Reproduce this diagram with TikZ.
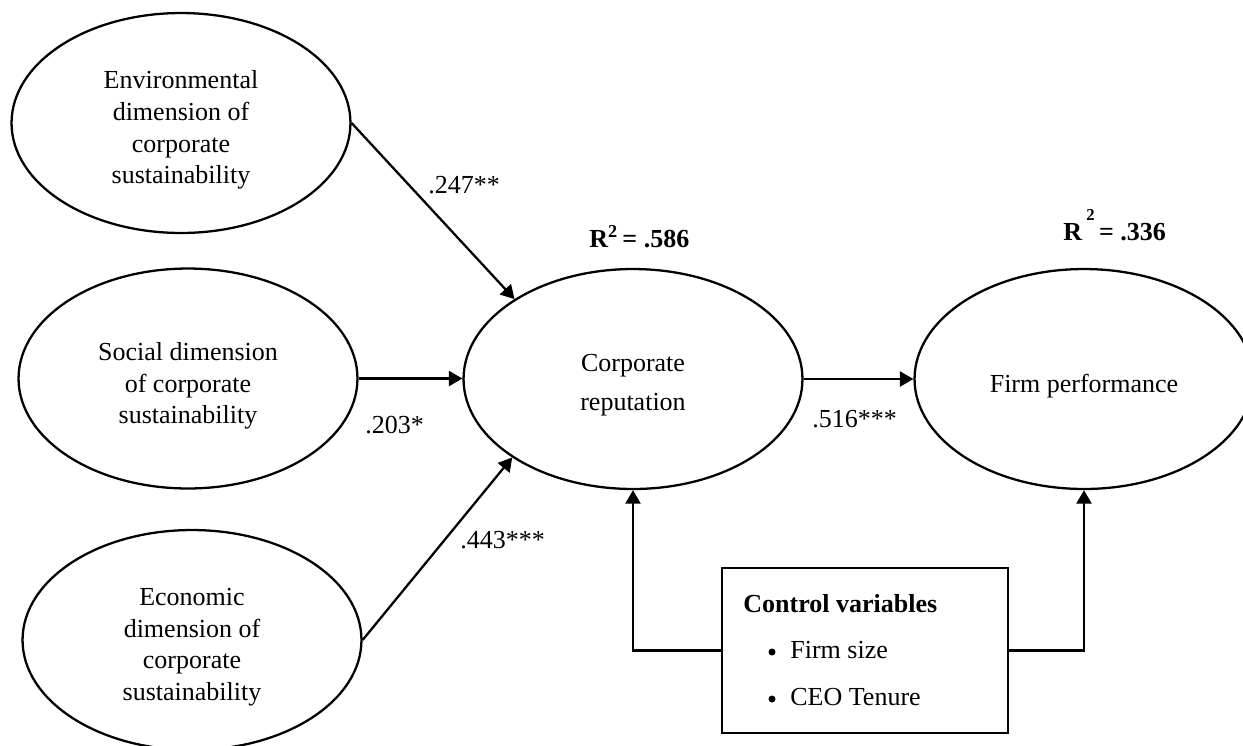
\documentclass[tikz,border=0pt]{standalone}
\usepackage{fontspec}
\setmainfont{Liberation Serif}
\usetikzlibrary{shapes.geometric,arrows.meta}
\tikzset{
  lv/.style={draw, ellipse, line width=1.3pt, inner sep=0pt, minimum width=6.78cm, minimum height=4.4cm},
  lvtext/.style={align=center, font=\fontsize{14.8}{18}\selectfont, inner sep=0pt},
  coef/.style={anchor=base west, inner sep=0pt, font=\fontsize{14.8}{18}\selectfont},
  rsq/.style={anchor=base west, inner sep=0pt, font=\fontsize{14.8}{18}\selectfont\bfseries},
  ctrlbox/.style={draw, line width=1.3pt, minimum width=5.72cm, minimum height=3.3cm, inner sep=0pt},
  bul/.style={circle, fill, inner sep=0pt, minimum size=0.14cm},
  arr/.style={line width=1.3pt, -{Triangle[length=0.27cm, width=0.3cm]}}
}
\begin{document}
\begin{tikzpicture}[x=0.02cm, y=-0.02cm]
\useasboundingbox (0,0) rectangle (1243,745);
% latent variables
\node[lv] (env) at (181,123) {};
\node[lv] (soc) at (188,378.5) {};
\node[lv] (eco) at (192,640) {};
\node[lv] (cr) at (633,379) {};
\node[lv] (fp) at (1084,379) {};
% texts
\node[lvtext] (envt) at (181,130) {Environmental\\dimension of\\corporate\\sustainability};
\node[lvtext] (soct) at (188,386) {Social dimension\\of corporate\\sustainability};
\node[lvtext] (ecot) at (192,647) {Economic\\dimension of\\corporate\\sustainability};
\node[lvtext] (crt) at (633,385) {Corporate\\[4.2pt]reputation};
\node[lvtext] (fpt) at (1084,386) {Firm performance};
% control box
\node[ctrlbox] (ctrl) at (865,650.5) {};
\node[rsq] (ctrlh) at (743,612) {Control variables};
\node[bul] (b1) at (772,652) {};
\node[coef] (c1) at (790,658) {Firm size};
\node[bul] (b2) at (772,699) {};
\node[coef] (c2) at (790,705) {CEO Tenure};
% paths
\draw[arr] (env.east) -- (cr.146.4);
\draw[arr] (soc.east) -- (soc.east -| cr.west);
\draw[arr] (eco.east) -- (cr.213.4);
\draw[arr] (cr.east) -- (fp.west);
\draw[arr] (ctrl.west) -| (cr.south);
\draw[arr] (ctrl.east) -| (fp.south);
% coefficients
\node[coef] (k1) at (428,193) {.247**};
\node[coef] (k2) at (365,433) {.203*};
\node[coef] (k3) at (460,548) {.443***};
\node[coef] (k4) at (812,427) {.516***};
\node[rsq] (r1) at (589,247) {R\textsuperscript{2}\,= .586};
\node[rsq] (r2) at (1063,240) {R\,\raisebox{0.75em}{\fontsize{9.5}{10}\selectfont 2}\,= .336};
\end{tikzpicture}
\end{document}
